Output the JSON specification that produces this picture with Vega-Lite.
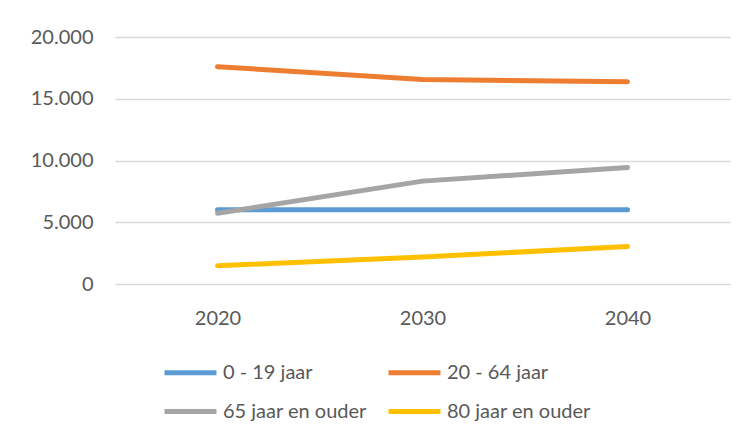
{
  "$schema": "https://vega.github.io/schema/vega-lite/v6.json",
  "width": 615,
  "height": 247,
  "autosize": {"type": "none"},
  "padding": {"left": 115, "top": 37, "right": 7, "bottom": 161},
  "background": "white",
  "config": {
    "view": {"stroke": null},
    "font": "Lato",
    "axis": {"labelFont": "Lato", "labelColor": "#595959", "labelFontSize": 20},
    "legend": {"labelFont": "Lato", "labelColor": "#595959", "labelFontSize": 20}
  },
  "data": {
    "values": [
      {"jaar": "2020", "groep": "0 - 19 jaar", "aantal": 6020},
      {"jaar": "2030", "groep": "0 - 19 jaar", "aantal": 6020},
      {"jaar": "2040", "groep": "0 - 19 jaar", "aantal": 6020},
      {"jaar": "2020", "groep": "20 - 64 jaar", "aantal": 17600},
      {"jaar": "2030", "groep": "20 - 64 jaar", "aantal": 16560},
      {"jaar": "2040", "groep": "20 - 64 jaar", "aantal": 16380},
      {"jaar": "2020", "groep": "65 jaar en ouder", "aantal": 5730},
      {"jaar": "2030", "groep": "65 jaar en ouder", "aantal": 8330},
      {"jaar": "2040", "groep": "65 jaar en ouder", "aantal": 9430},
      {"jaar": "2020", "groep": "80 jaar en ouder", "aantal": 1480},
      {"jaar": "2030", "groep": "80 jaar en ouder", "aantal": 2190},
      {"jaar": "2040", "groep": "80 jaar en ouder", "aantal": 3030}
    ]
  },
  "mark": {"type": "line", "strokeWidth": 5, "strokeCap": "round", "strokeJoin": "round"},
  "encoding": {
    "x": {
      "field": "jaar",
      "type": "ordinal",
      "scale": {"type": "point", "padding": 0.5},
      "axis": {"title": null, "ticks": false, "domain": false, "grid": false, "labelAngle": 0, "labelPadding": 24}
    },
    "y": {
      "field": "aantal",
      "type": "quantitative",
      "scale": {"domain": [0, 20000], "nice": false},
      "axis": {
        "title": null,
        "values": [0, 5000, 10000, 15000, 20000],
        "ticks": false,
        "domain": false,
        "gridColor": "#d9d9d9",
        "gridWidth": 1.5,
        "labelPadding": 22,
        "labelExpr": "replace(format(datum.value, ',d'), ',', '.')"
      }
    },
    "color": {
      "field": "groep",
      "type": "nominal",
      "scale": {
        "domain": ["0 - 19 jaar", "20 - 64 jaar", "65 jaar en ouder", "80 jaar en ouder"],
        "range": ["#5B9BD5", "#ED7D31", "#A5A5A5", "#FFC000"]
      },
      "legend": {
        "title": null,
        "orient": "none",
        "legendX": 47,
        "legendY": 307,
        "direction": "horizontal",
        "columns": 2,
        "symbolType": "stroke",
        "symbolSize": 2700,
        "symbolStrokeWidth": 5,
        "labelOffset": 4,
        "columnPadding": 11,
        "rowPadding": -6,
        "padding": 0
      }
    }
  }
}
